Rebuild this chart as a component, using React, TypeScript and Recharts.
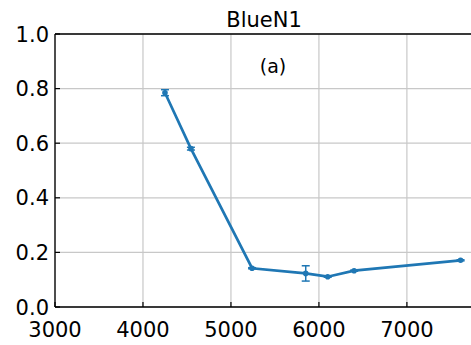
import React from 'react'
import { LineChart, Line, XAxis, YAxis, CartesianGrid, ErrorBar, ReferenceLine } from 'recharts'

// Measured points: wavelength, value and its uncertainty
const wavelengths = [4250, 4545, 5240, 5850, 6100, 6400, 7610]
const values = [0.785, 0.58, 0.142, 0.123, 0.111, 0.133, 0.171]
const errors = [0.011, 0.005, 0.002, 0.028, 0.002, 0.002, 0.002]

const xTicks = [3000, 4000, 5000, 6000, 7000]
const yTicks = [0, 0.2, 0.4, 0.6, 0.8, 1.0]

const title = 'BlueN1'
const panelLabel = '(a)'

const BLUE = '#1f77b4'
const FONT = '"DejaVu Sans", sans-serif'
const AXIS_X = 55
const AXIS_Y = 307
const TICK_LEN = 5

const data = wavelengths.map((w, i) => ({ w, v: values[i], err: errors[i] }))

function XTick(props: any) {
  const x = props.x
  return (
    <g>
      <line x1={x} x2={x} y1={AXIS_Y} y2={AXIS_Y - TICK_LEN} stroke="#000" strokeWidth={1.2} />
      <text x={x} y={337} textAnchor="middle" fontSize={21} fontFamily={FONT} fill="#000">
        {props.payload.value}
      </text>
    </g>
  )
}

function YTick(props: any) {
  const y = props.y
  return (
    <g>
      <line x1={AXIS_X} x2={AXIS_X + TICK_LEN} y1={y} y2={y} stroke="#000" strokeWidth={1.2} />
      <text x={49} y={y} dy="0.36em" textAnchor="end" fontSize={21} fontFamily={FONT} fill="#000">
        {Number(props.payload.value).toFixed(1)}
      </text>
    </g>
  )
}

export default function App() {
  return (
    <div style={{ position: 'absolute', left: 0, top: 0, width: 471, height: 345, overflow: 'hidden', background: '#fff' }}>
      <LineChart width={472} height={345} data={data} margin={{ top: 34, right: 0, left: 0, bottom: 0 }}>
        <CartesianGrid stroke="#c8c8c8" strokeWidth={1.2} />
        <XAxis
          dataKey="w"
          type="number"
          domain={[3000, 7740]}
          ticks={xTicks}
          height={38}
          stroke="#000"
          strokeWidth={1.3}
          tickLine={false}
          tick={<XTick />}
          allowDataOverflow
        />
        <YAxis
          type="number"
          domain={[0, 1]}
          ticks={yTicks}
          width={55}
          stroke="#000"
          strokeWidth={1.3}
          tickLine={false}
          tick={<YTick />}
        />
        <ReferenceLine y={1} stroke="#000" strokeWidth={1.3} />
        <Line
          dataKey="v"
          type="linear"
          stroke={BLUE}
          strokeWidth={2.7}
          dot={{ r: 2.8, fill: BLUE, stroke: 'none' }}
          activeDot={false}
          isAnimationActive={false}
        >
          <ErrorBar dataKey="err" direction="y" width={4} stroke={BLUE} strokeWidth={1.5} />
        </Line>
      </LineChart>
      <svg width={471} height={345} style={{ position: 'absolute', left: 0, top: 0, pointerEvents: 'none' }}>
        <text x={264} y={27} textAnchor="middle" fontSize={21} fontFamily={FONT} fill="#000">
          {title}
        </text>
        <text x={273} y={73} textAnchor="middle" fontSize={19} fontFamily={FONT} fill="#000">
          {panelLabel}
        </text>
      </svg>
    </div>
  )
}
